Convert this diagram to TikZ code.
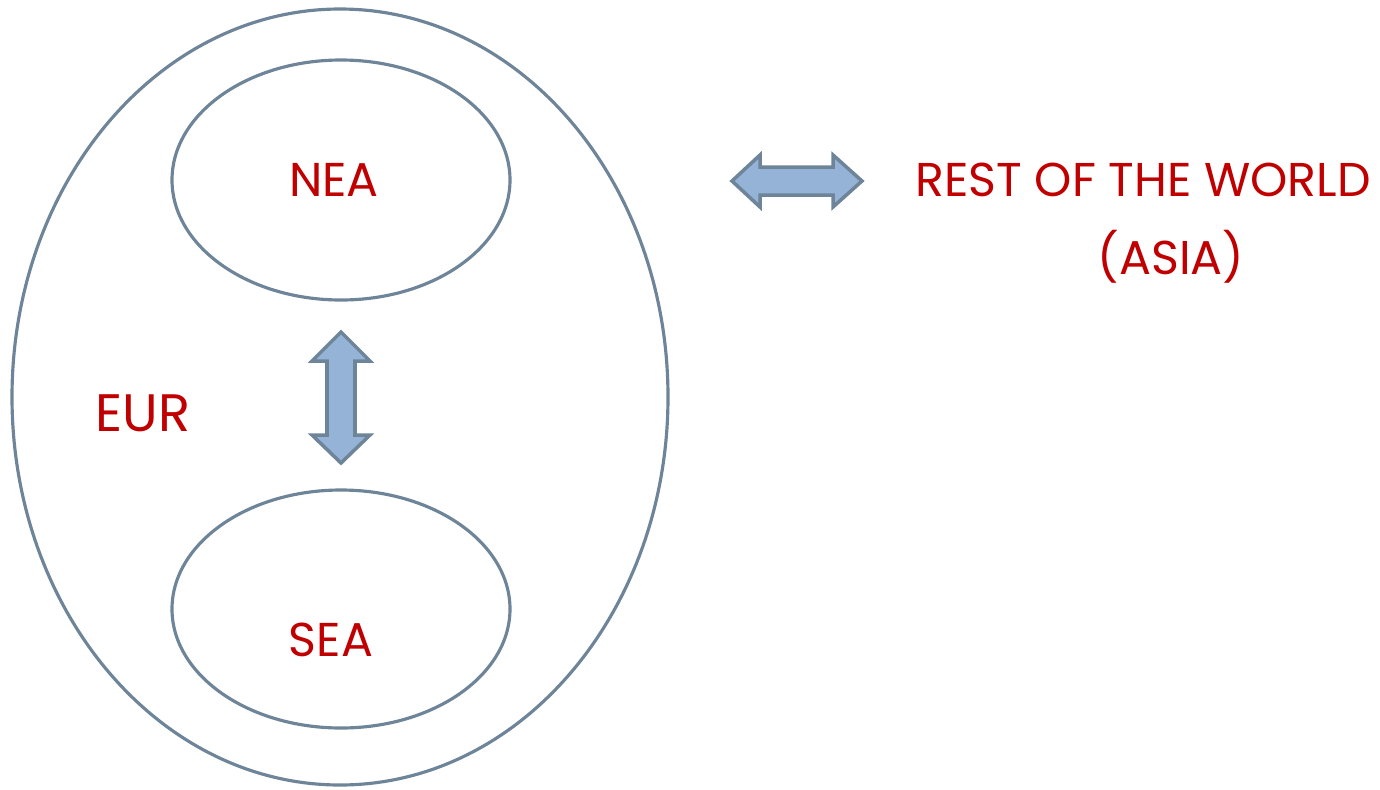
\documentclass[tikz,border=0pt]{standalone}
\usepackage{xcolor}
\usepackage{fontspec}
\setmainfont{Poppins}
\definecolor{lineblue}{HTML}{6E8499}
\definecolor{arrowfill}{HTML}{95B3D7}
\definecolor{labelred}{HTML}{C00000}
\tikzset{
  region/.style={draw=lineblue, line width=1.8pt},
  blockarrow/.style={draw=lineblue, fill=arrowfill, line width=2pt, line join=miter},
  zonelabel/.style={labelred, font=\fontsize{27}{33}\selectfont, inner sep=0pt}
}

\begin{document}
\begin{tikzpicture}[x=0.02cm, y=-0.02cm]
			\useasboundingbox (0,0) rectangle (1380,789);
			% the euro area and its two parts
			\draw[region] (340,397) ellipse [x radius=328, y radius=388];
			\draw[region] (341,180) ellipse [x radius=169, y radius=120];
			\draw[region] (341,609) ellipse [x radius=169, y radius=119];
			\node[zonelabel] (nea) at (334,180) {NEA};
			\node[zonelabel] (sea) at (331,640) {SEA};
			\node[zonelabel, font=\fontsize{30}{36}\selectfont] (eur) at (143,413) {EUR};
			% flows
			\draw[blockarrow] (341,332) -- (370,361) -- (355,361) -- (355,435) -- (370,435) -- (341,463)
				-- (312,435) -- (327,435) -- (327,361) -- (312,361) -- cycle;
			\draw[blockarrow] (732,181) -- (760,155) -- (760,167) -- (833,167) -- (833,155) -- (862,181)
				-- (833,207) -- (833,195) -- (760,195) -- (760,207) -- cycle;
			\node[zonelabel] (row) at (1143,180) {REST OF THE WORLD};
			\node[zonelabel] (asia) at (1171,257) {(ASIA)};
		\end{tikzpicture}
\end{document}
